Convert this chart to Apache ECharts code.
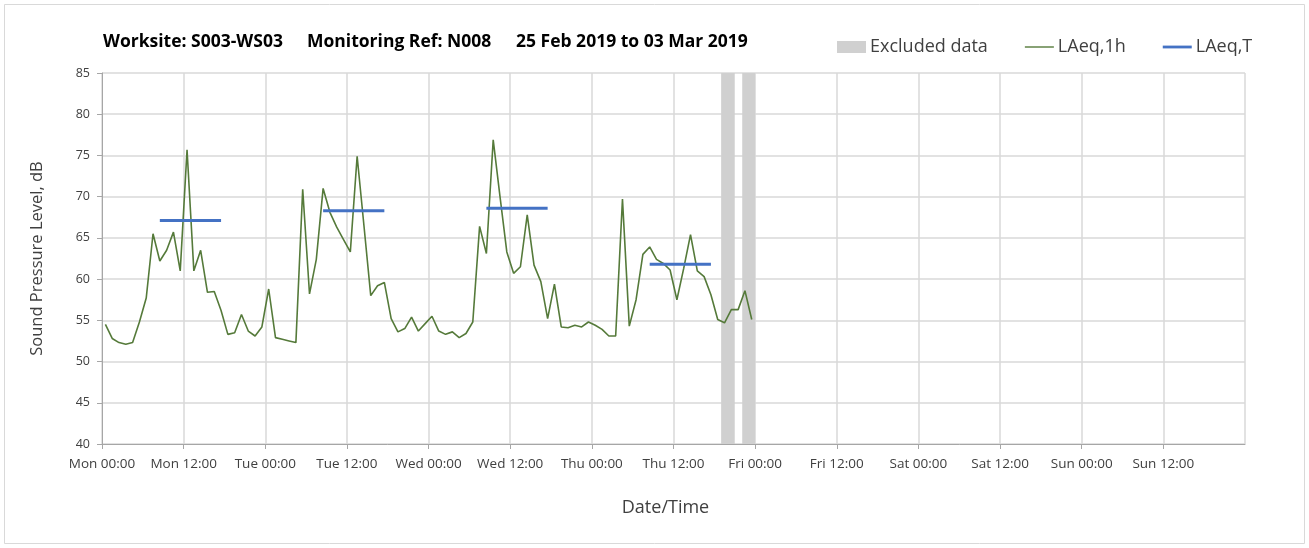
<!DOCTYPE html>
<html>
<head>
<meta charset="utf-8">
<script src="https://cdn.jsdelivr.net/npm/echarts@6/dist/echarts.min.js"></script>
<style>
html,body{margin:0;padding:0;background:#fff;}
#chart{width:1309px;height:548px;}
</style>
</head>
<body>
<div id="chart"></div>
<script>
// Hours since Mon 25 Feb 2019 00:00 (each hourly value plotted at mid-hour)
const hourStarts = Array.from({length: 96}, (_, i) => i);
const laeq1h = [
  54.5, 52.8, 52.3, 52.1, 52.3, 54.8, 57.7, 65.5, 62.2, 63.5, 65.7, 61.0,
  75.7, 61.0, 63.5, 58.4, 58.5, 56.2, 53.3, 53.5, 55.7, 53.7, 53.1, 54.2,
  58.8, 52.9, 52.7, 52.5, 52.3, 70.9, 58.2, 62.4, 71.0, 68.1, 66.3, 64.8,
  63.3, 74.9, 66.5, 58.0, 59.2, 59.6, 55.2, 53.6, 54.0, 55.4, 53.7, 54.6,
  55.5, 53.7, 53.3, 53.6, 52.9, 53.4, 54.8, 66.4, 63.1, 76.9, 70.0, 63.3,
  60.7, 61.5, 67.8, 61.7, 59.7, 55.2, 59.4, 54.2, 54.1, 54.4, 54.2, 54.8,
  54.4, 53.9, 53.1, 53.1, 69.7, 54.3, 57.5, 63.0, 63.9, 62.4, 61.9, 61.1,
  57.5, 61.3, 65.4, 61.0, 60.3, 58.1, 55.1, 54.7, 56.3, 56.3, 58.6, 55.1
];
// LAeq,T periods: [start hour, end hour, level]
const laeqTPeriods = [
  [8.5, 17.5, 67.1],
  [32.5, 41.5, 68.3],
  [56.5, 65.5, 68.6],
  [80.5, 89.5, 61.8]
];
// Excluded data ranges (hours)
const excludedRanges = [
  [91, 93],
  [94.1, 96]
];
const dayNames = ['Mon', 'Tue', 'Wed', 'Thu', 'Fri', 'Sat', 'Sun'];
const titleParts = ['Worksite: S003-WS03', 'Monitoring Ref: N008', '25 Feb 2019 to 03 Mar 2019'];

const FONT = '"Open Sans", Lato, sans-serif';
const chart = echarts.init(document.getElementById('chart'), null, {renderer: 'canvas'});

const series = [];
series.push({
  name: 'Excluded data',
  type: 'custom',
  itemStyle: {color: '#d0d0d0'},
  encode: {x: [0, 1]},
  data: excludedRanges,
  z: 1,
  renderItem: function (params, api) {
    const a = api.coord([api.value(0), 85]);
    const b = api.coord([api.value(1), 40]);
    return {
      type: 'rect',
      shape: {x: a[0], y: a[1], width: b[0] - a[0], height: b[1] - a[1]},
      style: {fill: '#d0d0d0'}
    };
  }
});
series.push({
  name: 'LAeq,1h',
  type: 'line',
  symbol: 'none',
  color: '#557a3a',
  lineStyle: {width: 1.6, color: '#557a3a'},
  data: hourStarts.map((h, i) => [h + 0.5, laeq1h[i]]),
  z: 3
});
laeqTPeriods.forEach(p => {
  series.push({
    name: 'LAeq,T',
    type: 'line',
    symbol: 'none',
    color: '#4472c4',
    lineStyle: {width: 3, color: '#4472c4'},
    data: [[p[0], p[2]], [p[1], p[2]]],
    z: 4
  });
});

const titleX = [103, 307, 516];
const graphics = [{
  type: 'rect',
  shape: {x: 4.5, y: 4.5, width: 1300, height: 539},
  style: {fill: 'none', stroke: '#d9d9d9', lineWidth: 1},
  z: -10
}];
titleParts.forEach((t, i) => {
  graphics.push({
    type: 'text',
    x: titleX[i],
    y: 42,
    style: {text: t, fontFamily: FONT, fontWeight: 'bold', fontSize: 17.5, fill: '#000', verticalAlign: 'middle'}
  });
});

chart.setOption({
  animation: false,
  backgroundColor: '#fff',
  graphic: graphics,
  legend: {
    left: 832,
    top: 33,
    itemWidth: 29,
    itemHeight: 12,
    itemGap: 37,
    textStyle: {fontFamily: FONT, fontSize: 18, color: '#404040', padding: [0, 0, 0, -1]},
    data: [
      {name: 'Excluded data', icon: 'rect', itemStyle: {color: '#d0d0d0'}},
      {name: 'LAeq,1h', icon: 'path://M0,0 M0,5.3 L29,5.3 L29,6.7 L0,6.7 Z M29,12', itemStyle: {color: '#557a3a'}},
      {name: 'LAeq,T', icon: 'path://M0,0 M0,4.6 L29,4.6 L29,7.4 L0,7.4 Z M29,12', itemStyle: {color: '#4472c4'}}
    ]
  },
  grid: {left: 102, right: 64, top: 73, bottom: 104, containLabel: false},
  xAxis: {
    type: 'value',
    min: 0,
    max: 168,
    interval: 12,
    name: 'Date/Time',
    nameLocation: 'middle',
    nameGap: 55,
    nameTextStyle: {fontFamily: FONT, fontSize: 18, color: '#404040', padding: [0, 16, 0, 0]},
    axisLine: {lineStyle: {color: '#a6a6a6', width: 1}},
    axisTick: {show: true, length: 5, lineStyle: {color: '#a6a6a6'}},
    axisLabel: {
      fontFamily: FONT, fontSize: 13.5, color: '#404040', margin: 13,
      showMaxLabel: false,
      formatter: function (v) {
        if (v >= 168) return '';
        const d = Math.floor(v / 24);
        const hh = v % 24;
        return dayNames[d] + ' ' + (hh < 10 ? '0' : '') + hh + ':00';
      }
    },
    splitLine: {show: true, lineStyle: {color: '#d9d9d9', width: 1.5}}
  },
  yAxis: {
    type: 'value',
    min: 40,
    max: 85,
    interval: 5,
    name: 'Sound Pressure Level, dB',
    nameLocation: 'middle',
    nameGap: 56,
    nameTextStyle: {fontFamily: FONT, fontSize: 16.5, color: '#404040'},
    axisLine: {show: true, lineStyle: {color: '#a6a6a6', width: 1}},
    axisTick: {show: true, length: 5, lineStyle: {color: '#a6a6a6'}},
    axisLabel: {fontFamily: FONT, fontSize: 12.5, color: '#404040', margin: 12},
    splitLine: {show: true, lineStyle: {color: '#d9d9d9', width: 1.5}}
  },
  series: series
});
</script>
</body>
</html>
